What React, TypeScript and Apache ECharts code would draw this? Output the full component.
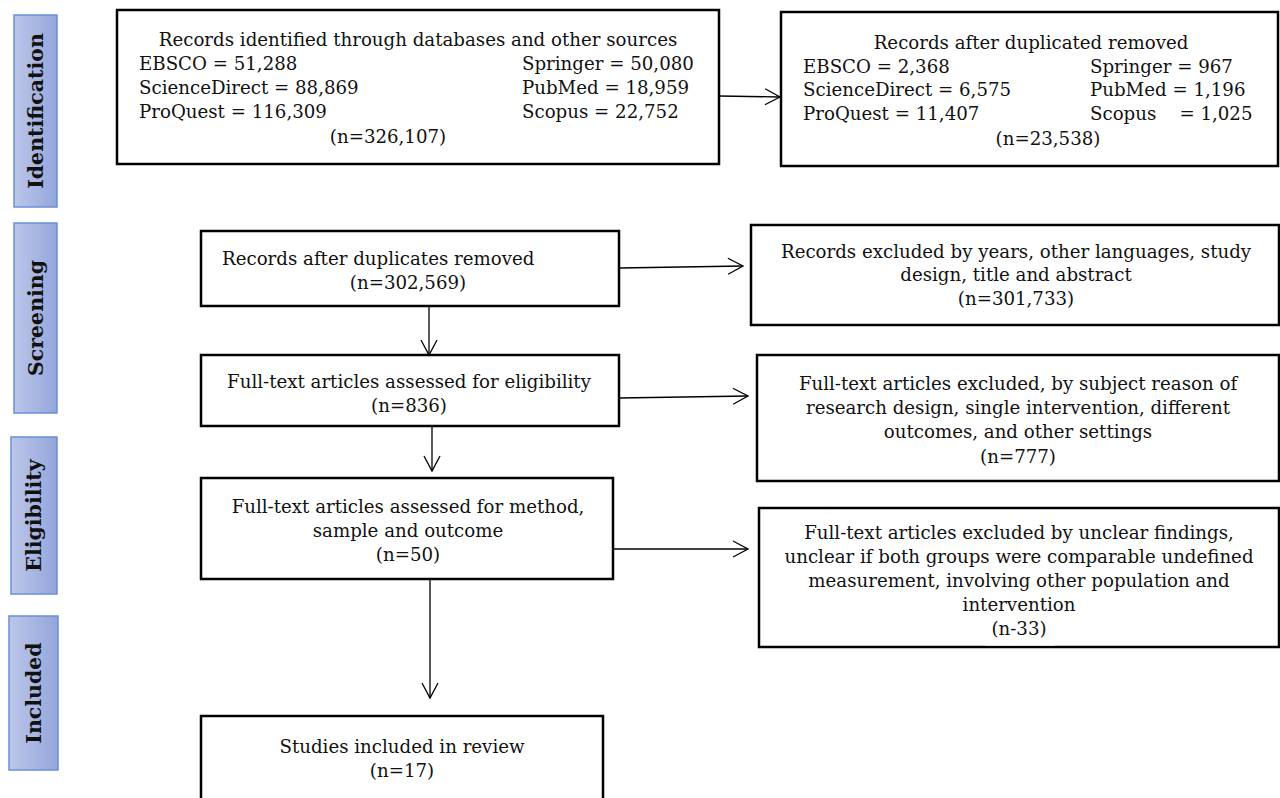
import React, { useEffect, useRef } from "react";
import * as echarts from "echarts";

// ---- Data ----
const stageLabels = ["Identification", "Screening", "Eligibility", "Included"];

const identifiedTitle = "Records identified through databases and other sources";
const sourcesLeft = ["EBSCO", "ScienceDirect", "ProQuest"];
const sourcesRight = ["Springer", "PubMed", "Scopus"];
const identifiedLeft = [51288, 88869, 116309];
const identifiedRight = [50080, 18959, 22752];
const identifiedTotal = 326107;

const dedupTitle = "Records after duplicated removed";
const dedupLeft = [2368, 6575, 11407];
const dedupRight = [967, 1196, 1025];
const dedupTotal = 23538;

const screenedLines = ["Records after duplicates removed"];
const screenedN = 302569;
const screenExcludedLines = ["Records excluded by years, other languages, study", "design, title and abstract"];
const screenExcludedN = 301733;
const eligibleLines = ["Full-text articles assessed for eligibility"];
const eligibleN = 836;
const eligibleExcludedLines = [
  "Full-text articles excluded, by subject reason of",
  "research design, single intervention, different",
  "outcomes, and other settings",
];
const eligibleExcludedN = 777;
const methodLines = ["Full-text articles assessed for method,", "sample and outcome"];
const methodN = 50;
const methodExcludedLines = [
  "Full-text articles excluded by unclear findings,",
  "unclear if both groups were comparable undefined",
  "measurement, involving other population and",
  "intervention",
];
const methodExcludedLabel = "(n-33)";
const includedLines = ["Studies included in review"];
const includedN = 17;

// ---- Drawing helpers ----
const FONT = "'DejaVu Serif', 'Liberation Serif', serif";
const FS = 18.2;
const fmt = (n: number) => n.toLocaleString("en-US");

function box(x1: number, y1: number, x2: number, y2: number) {
  return {
    type: "rect",
    shape: { x: x1, y: y1, width: x2 - x1, height: y2 - y1 },
    style: { fill: "#ffffff", stroke: "#000000", lineWidth: 2.5 },
  };
}

function txt(s: string, x: number, y: number, align: string = "center") {
  return {
    type: "text",
    x,
    y,
    style: {
      text: s,
      fontFamily: FONT,
      fontSize: FS,
      fill: "#111111",
      align,
      verticalAlign: "middle",
    },
  };
}

function arrow(x1: number, y1: number, x2: number, y2: number) {
  const dx = x2 - x1;
  const dy = y2 - y1;
  const len = Math.sqrt(dx * dx + dy * dy);
  const ux = dx / len;
  const uy = dy / len;
  const L = 15;
  const W = 8;
  const bx = x2 - ux * L;
  const by = y2 - uy * L;
  return [
    {
      type: "line",
      shape: { x1, y1, x2, y2 },
      style: { stroke: "#000000", lineWidth: 1.3 },
    },
    {
      type: "polyline",
      shape: {
        points: [
          [bx - uy * W, by + ux * W],
          [x2, y2],
          [bx + uy * W, by - ux * W],
        ],
      },
      style: { stroke: "#000000", lineWidth: 1.3, fill: null },
    },
  ];
}

function stage(label: string, x1: number, y1: number, x2: number, y2: number) {
  return [
    {
      type: "rect",
      shape: { x: x1, y: y1, width: x2 - x1, height: y2 - y1 },
      style: {
        fill: new echarts.graphic.LinearGradient(0, 0, 1, 0, [
          { offset: 0, color: "#bcc6ea" },
          { offset: 1, color: "#93a6da" },
        ]),
        stroke: "#6a90d6",
        lineWidth: 1.5,
      },
    },
    {
      type: "text",
      x: (x1 + x2) / 2,
      y: (y1 + y2) / 2,
      rotation: Math.PI / 2,
      style: {
        text: label,
        fontFamily: FONT,
        fontSize: 20.5,
        fontWeight: "bold",
        fill: "#111111",
        align: "center",
        verticalAlign: "middle",
      },
    },
  ];
}

function buildElements() {
  const els: any[] = [];
  const stageBoxes = [
    [14, 15, 57, 207],
    [14, 223, 57, 413],
    [11, 437, 57, 594],
    [9, 616, 58, 770],
  ];
  stageLabels.forEach((l, i) => {
    const b = stageBoxes[i];
    els.push(...stage(l, b[0], b[1], b[2], b[3]));
  });

  // Box 1: identification
  els.push(box(117, 10, 719, 164));
  els.push(txt(identifiedTitle, 418, 39));
  sourcesLeft.forEach((s, i) => {
    els.push(txt(`${s} = ${fmt(identifiedLeft[i])}`, 139, 63 + i * 24, "left"));
  });
  sourcesRight.forEach((s, i) => {
    els.push(txt(`${s} = ${fmt(identifiedRight[i])}`, 522, 63 + i * 24, "left"));
  });
  els.push(txt(`(n=${fmt(identifiedTotal)})`, 388, 136));

  // Box 2: after dedup
  els.push(box(781, 12, 1278, 166));
  els.push(txt(dedupTitle, 1031, 42));
  sourcesLeft.forEach((s, i) => {
    els.push(txt(`${s} = ${fmt(dedupLeft[i])}`, 803, 66 + i * 23.5, "left"));
  });
  sourcesRight.forEach((s, i) => {
    const label = s === "Scopus" ? `${s}    = ${fmt(dedupRight[i])}` : `${s} = ${fmt(dedupRight[i])}`;
    els.push(txt(label, 1090, 66 + i * 23.5, "left"));
  });
  els.push(txt(`(n=${fmt(dedupTotal)})`, 1048, 138));

  // Box 3
  els.push(box(201, 231, 619, 306));
  els.push(txt(screenedLines[0], 222, 258, "left"));
  els.push(txt(`(n=${fmt(screenedN)})`, 408, 282));

  // Box 4
  els.push(box(751, 225, 1279, 325));
  screenExcludedLines.forEach((s, i) => els.push(txt(s, 1016, 251 + i * 23.5)));
  els.push(txt(`(n=${fmt(screenExcludedN)})`, 1016, 298));

  // Box 5
  els.push(box(201, 355, 619, 426));
  els.push(txt(eligibleLines[0], 409, 381));
  els.push(txt(`(n=${fmt(eligibleN)})`, 409, 405));

  // Box 6
  els.push(box(757, 355, 1279, 481));
  eligibleExcludedLines.forEach((s, i) => els.push(txt(s, 1018, 383 + i * 24.3)));
  els.push(txt(`(n=${fmt(eligibleExcludedN)})`, 1018, 456));

  // Box 7
  els.push(box(201, 478, 613, 579));
  methodLines.forEach((s, i) => els.push(txt(s, 408, 506 + i * 24)));
  els.push(txt(`(n=${fmt(methodN)})`, 408, 554));

  // Box 8
  els.push(box(759, 508, 1279, 647));
  methodExcludedLines.forEach((s, i) => els.push(txt(s, 1019, 532 + i * 24)));
  els.push(txt(methodExcludedLabel, 1019, 628));
  els.push({
    type: "rect",
    shape: { x: 985, y: 637.5, width: 70, height: 8 },
    style: { fill: "#ffffff" },
  });

  // Box 9
  els.push(box(201, 716, 603, 812));
  els.push(txt(includedLines[0], 402, 746));
  els.push(txt(`(n=${fmt(includedN)})`, 402, 770));

  // Arrows
  els.push(...arrow(719, 96, 780, 97));
  els.push(...arrow(619, 268, 743, 266));
  els.push(...arrow(429, 306, 429, 355));
  els.push(...arrow(619, 398, 748, 396));
  els.push(...arrow(432, 426, 432, 471));
  els.push(...arrow(613, 549, 748, 549));
  els.push(...arrow(430, 579, 430, 698));

  return els;
}

export default function App() {
  const ref = useRef<HTMLDivElement>(null);
  useEffect(() => {
    if (!ref.current) return;
    const chart = echarts.init(ref.current, null, { renderer: "svg" });
    chart.setOption({
      animation: false,
      backgroundColor: "#ffffff",
      graphic: { elements: buildElements() },
    });
    return () => chart.dispose();
  }, []);
  return (
    <div
      ref={ref}
      style={{ position: "absolute", left: 0, top: 0, width: 1280, height: 798 }}
    />
  );
}
